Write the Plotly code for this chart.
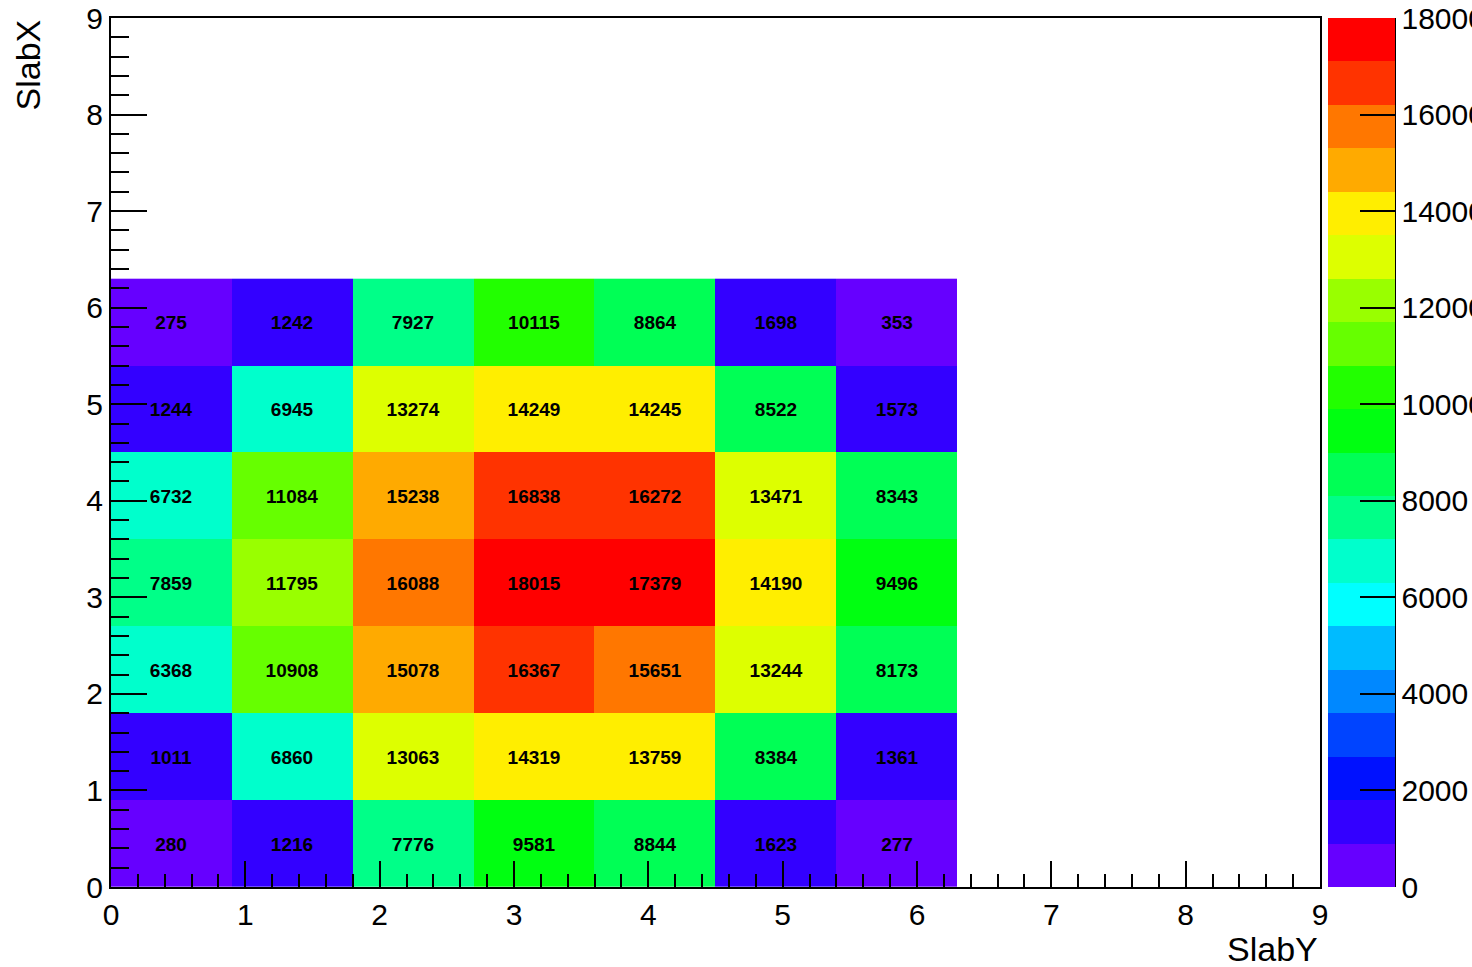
import plotly.graph_objects as go

# Bin edges (SlabY along x, SlabX along y)
x_edges = [0.0, 0.9, 1.8, 2.7, 3.6, 4.5, 5.4, 6.3]
y_edges = [0.0, 0.9, 1.8, 2.7, 3.6, 4.5, 5.4, 6.3]

# Counts, rows from bottom (SlabX bin 0) to top
row0 = [280, 1216, 7776, 9581, 8844, 1623, 277]
row1 = [1011, 6860, 13063, 14319, 13759, 8384, 1361]
row2 = [6368, 10908, 15078, 16367, 15651, 13244, 8173]
row3 = [7859, 11795, 16088, 18015, 17379, 14190, 9496]
row4 = [6732, 11084, 15238, 16838, 16272, 13471, 8343]
row5 = [1244, 6945, 13274, 14249, 14245, 8522, 1573]
row6 = [275, 1242, 7927, 10115, 8864, 1698, 353]
z = [row0, row1, row2, row3, row4, row5, row6]

palette = [
    "#6600FF", "#3300FF", "#0011FF", "#0044FF", "#0088FF",
    "#00BBFF", "#00FFFF", "#00FFCC", "#00FF88", "#00FF55",
    "#00FF11", "#22FF00", "#66FF00", "#99FF00", "#DDFF00",
    "#FFEE00", "#FFAA00", "#FF7700", "#FF3300", "#FF0000",
]
zmin, zmax = 0, 18000

n = len(palette)
colorscale = []
for i, c in enumerate(palette):
    colorscale.append([i / n, c])
    colorscale.append([(i + 1) / n, c])

W, H = 1472, 967
L, R, T, B = 111, 1320, 18, 887
pw, ph = R - L, B - T

def px_x(p):
    return (p - L) / pw

def px_y(p):
    return (B - p) / ph

FONT = "Liberation Sans, Arial, Helvetica, sans-serif"

fig = go.Figure(go.Heatmap(
    x=x_edges, y=y_edges, z=z,
    zmin=zmin, zmax=zmax,
    colorscale=colorscale,
    texttemplate="<b>%{z:d}</b>",
    textfont=dict(family=FONT, size=19, color="black"),
    colorbar=dict(
        x=px_x(1328), xanchor="left", xpad=0,
        y=0.5, yanchor="middle", ypad=0,
        len=1, lenmode="fraction",
        thickness=67, thicknessmode="pixels",
        outlinewidth=0,
        ticks="inside", ticklen=35, tickwidth=1.5, tickcolor="black",
        tick0=0, dtick=2000, tickformat="d",
        tickfont=dict(family=FONT, size=30, color="black"),
    ),
))

axis_common = dict(
    range=[0, 9], showgrid=False, zeroline=False,
    showline=True, linecolor="black", linewidth=2, mirror=True,
    ticks="inside", tickwidth=1.5, tickcolor="black",
    tick0=0, dtick=1,
    tickfont=dict(family=FONT, size=30, color="black"),
)
fig.update_xaxes(**axis_common, ticklen=26,
                 minor=dict(ticks="inside", ticklen=13, dtick=0.2, tickwidth=1.5, tickcolor="black"))
fig.update_yaxes(**axis_common, ticklen=36,
                 minor=dict(ticks="inside", ticklen=18, dtick=0.2, tickwidth=1.5, tickcolor="black"))

fig.add_shape(type="line", xref="paper", yref="paper",
              x0=px_x(1395), x1=px_x(1395), y0=0, y1=1,
              line=dict(color="black", width=2))

fig.add_annotation(text="SlabY", xref="paper", yref="paper",
                   x=1, xanchor="right", y=px_y(949), yanchor="middle",
                   showarrow=False, font=dict(family=FONT, size=34, color="black"))
fig.add_annotation(text="SlabX", xref="paper", yref="paper",
                   x=px_x(27), xanchor="center", y=1, yanchor="top",
                   textangle=-90,
                   showarrow=False, font=dict(family=FONT, size=34, color="black"))

fig.update_layout(
    width=W, height=H,
    margin=dict(l=L, r=W - R, t=T, b=H - B, autoexpand=False),
    paper_bgcolor="white", plot_bgcolor="white",
    font=dict(family=FONT, color="black"),
)

fig.write_html("out.html", config={"displayModeBar": False},
               post_script="document.body.style.margin='0px';")
